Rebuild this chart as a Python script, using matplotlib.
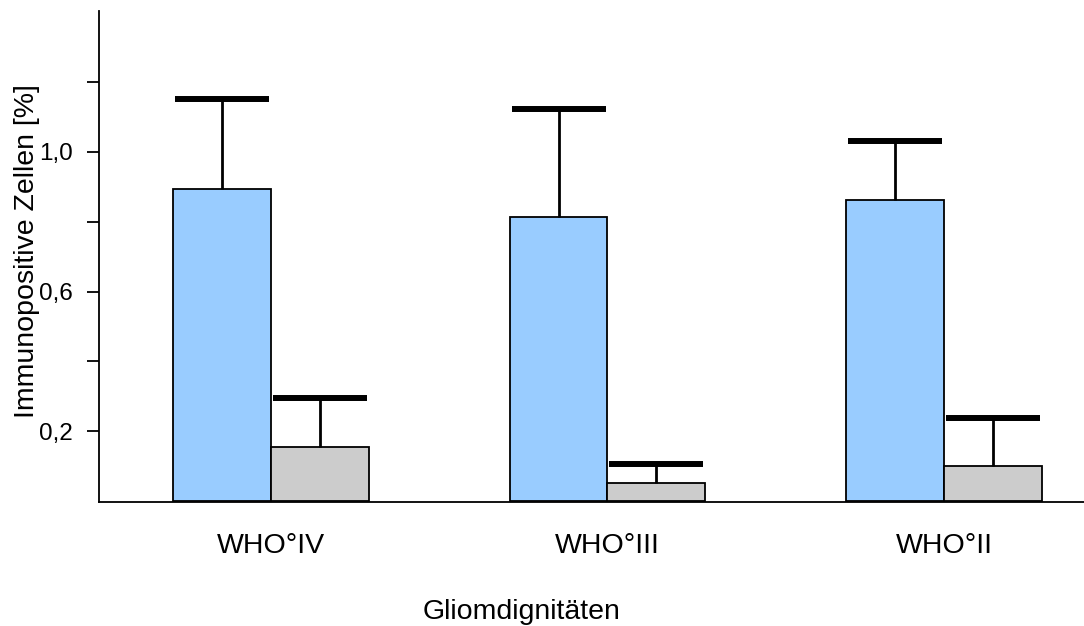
import matplotlib
matplotlib.use("Agg")
import matplotlib.pyplot as plt
import numpy as np

plt.rcParams['font.family'] = ['Liberation Sans', 'DejaVu Sans']

# Daten
gruppen = ["WHO°IV", "WHO°III", "WHO°II"]
werte_blau = [0.894, 0.814, 0.863]
fehler_blau = [0.257, 0.309, 0.168]
werte_grau = [0.154, 0.051, 0.100]
fehler_grau = [0.140, 0.055, 0.137]

x = np.arange(len(gruppen))
breite = 0.29

fig = plt.figure(figsize=(10.84, 6.26), dpi=100)
ax = fig.add_axes([0.0913, 0.198, 0.9087, 0.784])

ax.bar(x - breite / 2, werte_blau, breite, color="#99CCFF", edgecolor="black", linewidth=1.3, zorder=2)
ax.bar(x + breite / 2, werte_grau, breite, color="#CCCCCC", edgecolor="black", linewidth=1.3, zorder=2)

# nur obere Fehlerbalken
for xs, w, f in [(x - breite / 2, werte_blau, fehler_blau), (x + breite / 2, werte_grau, fehler_grau)]:
    eb = ax.errorbar(xs, w, yerr=[np.zeros(3), f], fmt="none",
                     ecolor="black", elinewidth=2, capsize=34, capthick=4.3, zorder=3)
    eb[1][0].set_visible(False)

ax.set_xlim(-0.511, 2.416)
ax.set_ylim(-0.003, 1.403)

ax.set_yticks([0.2, 0.6, 1.0])
ax.set_yticklabels(["0,2", "0,6", "1,0"])
ax.set_yticks([0.4, 0.8, 1.2], minor=True)
ax.tick_params(axis="y", which="both", length=8.6, width=1.3, labelsize=17.5, pad=10)

ax.set_xticks(x)
ax.set_xticklabels(gruppen)
ax.tick_params(axis="x", length=0, labelsize=20.5, pad=22.5)

ax.spines["top"].set_visible(False)
ax.spines["right"].set_visible(False)
ax.spines["left"].set_linewidth(1.3)
ax.spines["bottom"].set_linewidth(1.3)

ax.set_ylabel("Immunopositive Zellen [%]", fontsize=20.5, va="center", ha="center")
ax.yaxis.set_label_coords(-0.0731, 0.511)
ax.set_xlabel("Gliomdignitäten", fontsize=20.5, va="center", ha="center")
ax.xaxis.set_label_coords(0.4294, -0.224)

fig.savefig("out.png", dpi=100)
